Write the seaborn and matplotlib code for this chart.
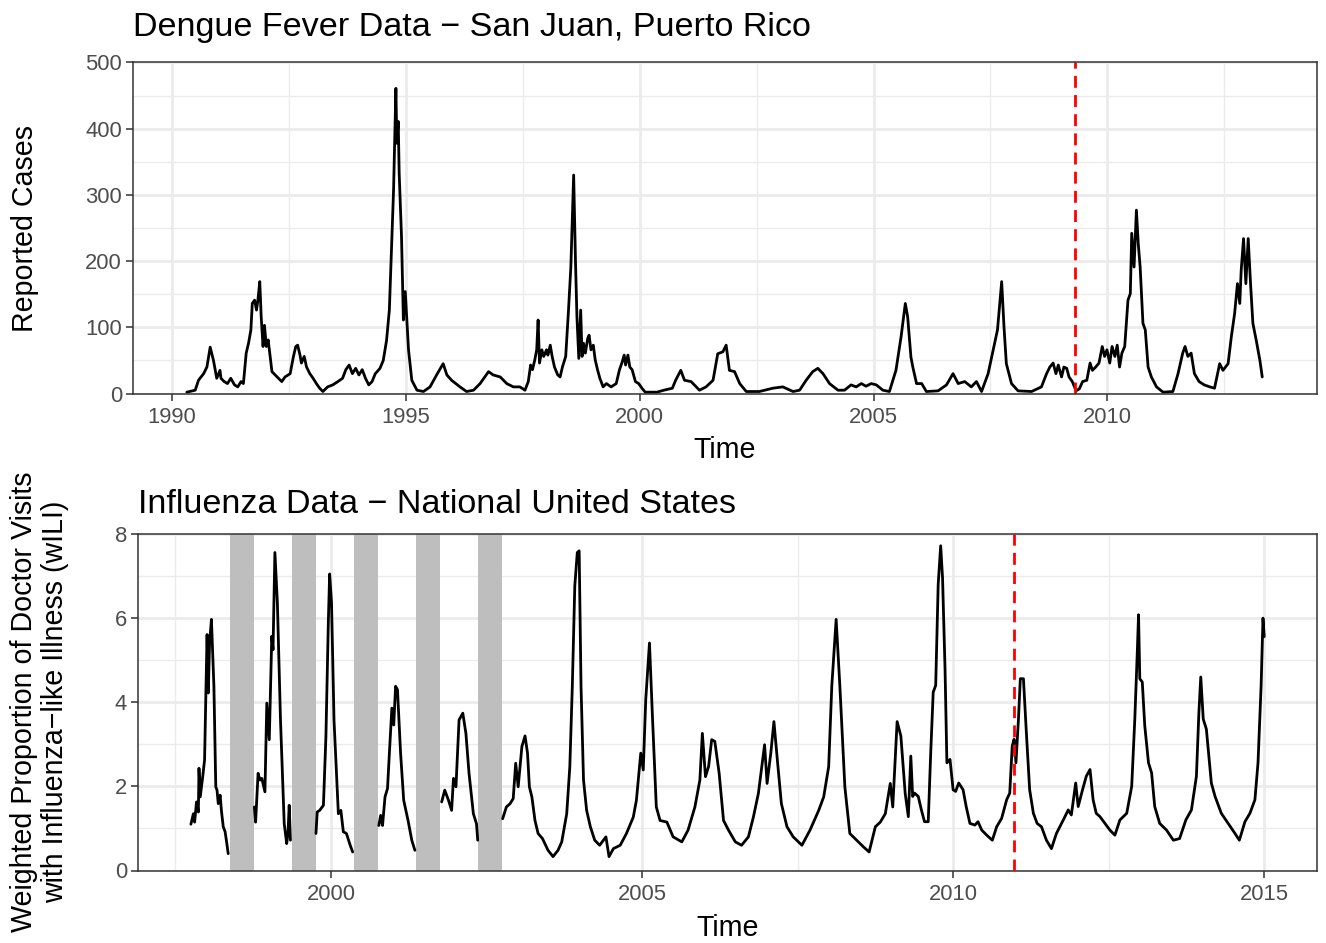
import numpy as np
import pandas as pd
import matplotlib
matplotlib.use("Agg")
import matplotlib.pyplot as plt
import seaborn as sns
from matplotlib.ticker import MultipleLocator

# ---------------- data ----------------
dengue_time = [
    1990.32, 1990.50, 1990.57, 1990.68, 1990.75, 1990.82, 1990.89, 1990.96,
    1991.03, 1991.05, 1991.12, 1991.19, 1991.26, 1991.34, 1991.41, 1991.48, 1991.53, 1991.59,
    1991.64, 1991.69, 1991.72, 1991.77, 1991.81, 1991.84, 1991.88, 1991.91, 1991.95, 1991.98,
    1992.02, 1992.06, 1992.11, 1992.14, 1992.21, 1992.28, 1992.35, 1992.42, 1992.53, 1992.60,
    1992.65, 1992.69, 1992.74, 1992.77, 1992.83, 1992.88, 1992.95, 1993.02, 1993.09, 1993.16,
    1993.23, 1993.33, 1993.44, 1993.55, 1993.65, 1993.72, 1993.79, 1993.86, 1993.93, 1994.00,
    1994.07, 1994.14, 1994.21, 1994.28, 1994.35,
    1994.45, 1994.52, 1994.59, 1994.65, 1994.74, 1994.79, 1994.81, 1994.84, 1994.86, 1994.91,
    1994.95, 1994.99, 1995.06, 1995.13, 1995.24, 1995.38, 1995.52, 1995.66, 1995.80, 1995.88,
    1995.98, 1996.16, 1996.30, 1996.45, 1996.59, 1996.77, 1996.87, 1997.02, 1997.16, 1997.30,
    1997.44, 1997.55, 1997.62, 1997.67, 1997.71, 1997.76, 1997.80, 1997.83, 1997.86, 1997.91,
    1997.95, 1998.01, 1998.04, 1998.09, 1998.13, 1998.18, 1998.25, 1998.30, 1998.35, 1998.42,
    1998.48, 1998.53, 1998.59, 1998.63, 1998.66, 1998.70, 1998.74, 1998.77, 1998.80, 1998.84,
    1998.89, 1998.92, 1998.96, 1999.01, 1999.05, 1999.10, 1999.15, 1999.22, 1999.29, 1999.39,
    1999.50, 1999.57, 1999.62, 1999.67, 1999.70, 1999.75, 1999.79, 1999.84, 1999.91, 1999.98,
    2000.05, 2000.12, 2000.37, 2000.52, 2000.70, 2000.77,
    2000.88, 2000.96, 2001.10, 2001.28, 2001.42, 2001.57, 2001.67, 2001.78, 2001.85, 2001.92,
    2002.03, 2002.14, 2002.28, 2002.56, 2002.85, 2003.06, 2003.28, 2003.42, 2003.56, 2003.70,
    2003.81, 2003.92, 2004.06, 2004.24, 2004.38, 2004.52, 2004.63, 2004.74, 2004.84, 2004.95,
    2005.06, 2005.20, 2005.34, 2005.48, 2005.59, 2005.68, 2005.73, 2005.80, 2005.84, 2005.92,
    2006.03, 2006.13, 2006.38, 2006.56, 2006.70, 2006.81, 2006.95, 2007.09, 2007.20, 2007.31,
    2007.45, 2007.56, 2007.65, 2007.74, 2007.79, 2007.84, 2007.95, 2008.09, 2008.38, 2008.59,
    2008.70, 2008.77, 2008.84, 2008.90, 2008.95, 2009.02, 2009.07, 2009.13, 2009.18, 2009.25,
    2009.33, 2009.40, 2009.47, 2009.56, 2009.63, 2009.68, 2009.75, 2009.82, 2009.89, 2009.94,
    2009.99, 2010.05, 2010.10, 2010.16, 2010.21, 2010.26, 2010.31, 2010.37, 2010.44, 2010.49,
    2010.52, 2010.57, 2010.62, 2010.66, 2010.70, 2010.76, 2010.81, 2010.87, 2010.94, 2011.05,
    2011.19, 2011.40, 2011.51, 2011.61, 2011.66, 2011.72, 2011.79, 2011.86, 2011.96, 2012.07,
    2012.19, 2012.29, 2012.40, 2012.47, 2012.58, 2012.65, 2012.72, 2012.78, 2012.83, 2012.86,
    2012.91, 2012.96, 2013.01, 2013.06, 2013.11, 2013.18, 2013.26, 2013.31]
dengue_cases = [
    2, 5, 20, 30, 40, 70, 50, 23,
    35, 23, 18, 15, 23, 13, 10, 18, 15, 61,
    76, 96, 136, 141, 126, 141, 169, 116, 71, 103,
    71, 81, 51, 33, 28, 23, 18, 25, 30, 56,
    71, 73, 58, 46, 56, 40, 30, 23, 15, 8,
    3, 10, 13, 18, 23, 36, 43, 30, 38, 28,
    36, 23, 13, 18, 30,
    38, 50, 80, 126, 307, 461, 378, 411, 333, 237,
    111, 154, 66, 20, 5, 3, 10, 28, 45, 28,
    20, 10, 3, 5, 15, 33, 28, 25, 15, 10,
    10, 5, 18, 43, 36, 51, 66, 111, 46, 66,
    56, 66, 58, 73, 56, 40, 28, 25, 40, 56,
    126, 191, 330, 197, 116, 53, 126, 56, 76, 61,
    83, 88, 66, 73, 51, 36, 23, 10, 15, 10,
    15, 36, 46, 58, 43, 58, 40, 36, 18, 15,
    8, 2, 2, 5, 8, 20,
    35, 20, 18, 5, 10, 20, 60, 63, 73, 35,
    33, 15, 3, 3, 8, 10, 3, 5, 20, 33,
    38, 30, 15, 5, 5, 13, 10, 15, 11, 15,
    13, 5, 3, 35, 86, 136, 116, 55, 40, 15,
    15, 3, 4, 13, 30, 15, 18, 10, 18, 3,
    30, 66, 96, 169, 100, 45, 15, 4, 3, 10,
    30, 40, 46, 30, 43, 25, 40, 38, 25, 18,
    4, 7, 18, 20, 46, 35, 40, 46, 71, 56,
    66, 46, 71, 56, 73, 40, 61, 71, 141, 151,
    242, 191, 277, 226, 191, 106, 96, 40, 25, 10,
    2, 3, 30, 61, 71, 56, 61, 30, 18, 13,
    10, 8, 45, 35, 45, 86, 121, 166, 136, 186,
    234, 166, 234, 166, 106, 81, 50, 25]

flu_time = [1997.75, 1997.79, 1997.81, 1997.84, 1997.87, 1997.88, 1997.90, 1997.94, 1997.97, 1997.99,
            1998.01, 1998.03, 1998.05, 1998.08, 1998.12, 1998.15, 1998.17, 1998.19, 1998.22, 1998.24,
            1998.27, 1998.30, 1998.32, 1998.35,
            1998.77, 1998.79, 1998.83, 1998.86, 1998.89, 1998.94, 1998.97, 1999.01, 1999.05, 1999.07,
            1999.10, 1999.14, 1999.19, 1999.25, 1999.29, 1999.31, 1999.33, 1999.35,
            1999.76, 1999.78, 1999.82, 1999.88, 1999.92, 1999.96, 1999.98, 2000.01, 2000.05, 2000.09,
            2000.12, 2000.16, 2000.20, 2000.25, 2000.31, 2000.35,
            2000.77, 2000.80, 2000.83, 2000.87, 2000.91, 2000.94, 2000.98, 2001.01, 2001.04, 2001.07,
            2001.12, 2001.17, 2001.24, 2001.30, 2001.35,
            2001.78, 2001.83, 2001.89, 2001.94, 2001.97, 2002.01, 2002.06, 2002.12, 2002.17, 2002.22,
            2002.29, 2002.34, 2002.36,
            2002.76, 2002.82, 2002.88, 2002.93, 2002.97, 2003.01, 2003.07, 2003.12, 2003.16, 2003.19,
            2003.23, 2003.28, 2003.33, 2003.40, 2003.49, 2003.57, 2003.65, 2003.71, 2003.79, 2003.84,
            2003.88, 2003.92, 2003.96, 2003.99, 2004.02, 2004.06, 2004.11, 2004.17, 2004.24, 2004.32,
            2004.42, 2004.47, 2004.54, 2004.65, 2004.75, 2004.86, 2004.91, 2004.98, 2005.02, 2005.06,
            2005.12, 2005.17, 2005.23, 2005.29, 2005.40, 2005.50, 2005.64, 2005.74, 2005.85, 2005.93,
            2005.97, 2006.02, 2006.07, 2006.12, 2006.17, 2006.24, 2006.31, 2006.39, 2006.50, 2006.60,
            2006.71, 2006.79, 2006.87, 2006.97, 2007.01, 2007.07, 2007.12, 2007.18, 2007.24, 2007.33,
            2007.43, 2007.57, 2007.70, 2007.84, 2007.92, 2008.00, 2008.05, 2008.12, 2008.18, 2008.26,
            2008.34, 2008.45, 2008.56, 2008.65, 2008.75, 2008.83, 2008.91, 2008.99, 2009.03, 2009.10,
            2009.16, 2009.23, 2009.28, 2009.32, 2009.35, 2009.38, 2009.44, 2009.49, 2009.54, 2009.60,
            2009.64, 2009.68, 2009.72, 2009.76, 2009.80, 2009.83, 2009.87, 2009.90, 2009.95, 2010.00,
            2010.04, 2010.09, 2010.16, 2010.21, 2010.27, 2010.35, 2010.40, 2010.46, 2010.54, 2010.63,
            2010.70, 2010.78, 2010.86, 2010.91, 2010.95, 2010.98, 2011.01, 2011.05, 2011.08, 2011.13,
            2011.18, 2011.23, 2011.29, 2011.35, 2011.42, 2011.50, 2011.58, 2011.66, 2011.77, 2011.85,
            2011.90, 2011.97, 2012.01, 2012.08, 2012.14, 2012.20, 2012.25, 2012.30, 2012.36, 2012.44,
            2012.52, 2012.60, 2012.68, 2012.79, 2012.87, 2012.92, 2012.96, 2012.98, 2013.00, 2013.04,
            2013.08, 2013.14, 2013.19, 2013.24, 2013.32, 2013.43, 2013.54, 2013.64, 2013.74, 2013.83,
            2013.91, 2013.95, 2013.98, 2014.02, 2014.07, 2014.15, 2014.21, 2014.31, 2014.42, 2014.53,
            2014.60, 2014.69, 2014.77, 2014.85, 2014.90, 2014.95, 2014.98, 2015.00]
flu_wili = [1.10, 1.35, 1.15, 1.63, 1.39, 2.43, 1.75, 2.23, 2.63, 4.14,
            5.61, 4.22, 5.41, 5.97, 4.38, 1.99, 1.91, 1.59, 1.79, 1.43,
            1.04, 0.92, 0.72, 0.40,
            1.51, 1.15, 2.31, 2.15, 2.19, 1.87, 3.98, 3.11, 5.57, 5.25,
            7.56, 6.37, 3.58, 1.11, 0.64, 0.88, 1.55, 0.72,
            0.88, 1.39, 1.43, 1.55, 3.18, 5.97, 7.05, 6.37, 3.58, 2.31,
            1.35, 1.43, 0.92, 0.88, 0.60, 0.44,
            1.07, 1.31, 1.07, 1.75, 1.95, 2.79, 3.86, 3.46, 4.38, 4.30,
            2.79, 1.67, 1.19, 0.72, 0.48,
            1.63, 1.91, 1.67, 1.43, 2.19, 1.99, 3.58, 3.74, 3.26, 2.31,
            1.35, 1.11, 0.72,
            1.23, 1.51, 1.59, 1.71, 2.55, 1.99, 2.95, 3.20, 2.79, 1.99,
            1.75, 1.19, 0.88, 0.76, 0.48, 0.33, 0.48, 0.68, 1.35, 2.47,
            4.38, 6.77, 7.56, 7.60, 4.38, 2.15, 1.43, 1.04, 0.72, 0.60,
            0.80, 0.33, 0.52, 0.60, 0.88, 1.27, 1.67, 2.79, 2.39, 4.06,
            5.41, 3.58, 1.51, 1.19, 1.15, 0.80, 0.68, 0.96, 1.51, 2.15,
            3.26, 2.23, 2.47, 3.11, 3.07, 2.31, 1.19, 0.96, 0.68, 0.60,
            0.80, 1.27, 1.83, 2.99, 2.07, 2.79, 3.54, 2.55, 1.59, 1.04,
            0.80, 0.60, 0.96, 1.43, 1.75, 2.47, 4.38, 5.97, 4.38, 1.99,
            0.88, 0.72, 0.56, 0.44, 1.04, 1.15, 1.35, 2.07, 1.51, 3.54,
            3.20, 1.83, 1.28, 2.72, 1.76, 1.84, 1.76, 1.44, 1.16, 1.16,
            2.80, 4.24, 4.40, 6.80, 7.72, 6.96, 4.80, 2.56, 2.64, 1.92,
            1.88, 2.08, 1.92, 1.52, 1.12, 1.08, 1.16, 0.96, 0.84, 0.72,
            1.04, 1.24, 1.68, 1.84, 2.96, 3.12, 2.56, 3.60, 4.56, 4.56,
            3.20, 1.92, 1.36, 1.12, 1.04, 0.72, 0.52, 0.88, 1.20, 1.44,
            1.32, 2.08, 1.52, 1.92, 2.24, 2.40, 1.68, 1.36, 1.28, 1.12,
            0.96, 0.84, 1.20, 1.36, 2.00, 3.60, 5.20, 6.08, 4.56, 4.48,
            3.44, 2.56, 2.32, 1.52, 1.12, 0.96, 0.72, 0.76, 1.20, 1.44,
            2.24, 3.76, 4.60, 3.60, 3.36, 2.08, 1.76, 1.36, 1.12, 0.88,
            0.72, 1.16, 1.36, 1.68, 2.56, 4.40, 6.00, 5.56]
flu_season = ([1997] * 24 + [1998] * 18 + [1999] * 16 + [2000] * 15 + [2001] * 13)
flu_season = flu_season + [2002] * (len(flu_time) - len(flu_season))

band_start = [1998.375, 1999.375, 2000.37, 2001.37, 2002.37]
band_end = [1998.76, 1999.755, 2000.76, 2001.76, 2002.755]

dengue_split = 2009.30
flu_split = 2010.98

dengue_xticks = [1990, 1995, 2000, 2005, 2010]
dengue_yticks = [0, 100, 200, 300, 400, 500]
flu_xticks = [2000, 2005, 2010, 2015]
flu_yticks = [0, 2, 4, 6, 8]

assert len(dengue_time) == len(dengue_cases)
assert len(flu_time) == len(flu_wili)

# ---------------- style ----------------
sns.set_theme(style="white")
plt.rcParams['font.family'] = ['Liberation Sans', 'DejaVu Sans']

dengue = pd.DataFrame({"Time": dengue_time, "Cases": dengue_cases})
flu = pd.DataFrame({"Time": flu_time, "wILI": flu_wili, "season": flu_season})

W, H = 1326, 943
fig = plt.figure(figsize=(W / 100, H / 100), dpi=100)

def px_axes(left, top, right, bottom):
    return fig.add_axes([left / W, (H - bottom) / H, (right - left) / W, (bottom - top) / H])

ax1 = px_axes(133, 62.5, 1316.5, 393.5)
ax2 = px_axes(138, 534, 1316.5, 870.5)

GRID = "#EBEBEB"
EDGE = "#333333"
TICKC = "#4D4D4D"
TICK_FS = 15.8
LAB_FS = 20.6
TITLE_FS = 24.6

def style_axes(ax, major_x, minor_x, major_y, minor_y):
    ax.set_xticks(major_x)
    ax.set_yticks(major_y)
    ax.xaxis.set_minor_locator(MultipleLocator(minor_x))
    ax.yaxis.set_minor_locator(MultipleLocator(minor_y))
    ax.grid(which="major", color=GRID, linewidth=2.0, zorder=0)
    ax.grid(which="minor", color=GRID, linewidth=1.0, zorder=0)
    ax.set_axisbelow(True)
    for s in ax.spines.values():
        s.set_color(EDGE)
        s.set_linewidth(1.1)
    ax.tick_params(which="major", direction="out", length=5, width=1.1, color=EDGE,
                   labelsize=TICK_FS, labelcolor=TICKC, bottom=True, left=True)
    ax.tick_params(axis="x", which="major", pad=5)
    ax.tick_params(axis="y", which="major", pad=3)
    ax.tick_params(which="minor", length=0)

# ---------------- top: dengue ----------------
sns.lineplot(data=dengue, x="Time", y="Cases", ax=ax1, color="black", linewidth=2.0,
             estimator=None, sort=False)
ax1.axvline(dengue_split, color="#FF0000", linewidth=2.0, dashes=(4.3, 2.6))
ax1.set_xlim(1989.17, 2014.47)
ax1.set_ylim(0, 500)
style_axes(ax1, dengue_xticks, 2.5, dengue_yticks, 50)
ax1.set_xlabel("Time", fontsize=LAB_FS, color="black")
ax1.set_ylabel("Reported Cases", fontsize=LAB_FS, color="black", va="center", ha="center")
ax1.yaxis.set_label_coords(-0.0913, 0.5)
ax1.xaxis.set_label_coords(0.5, -0.171)
ax1.xaxis.label.set_va("center")
ax1.set_title("Dengue Fever Data \u2212 San Juan, Puerto Rico", loc="left",
              fontsize=TITLE_FS, color="black", pad=19)

# ---------------- bottom: influenza ----------------
for s, e in zip(band_start, band_end):
    ax2.axvspan(s, e, color="#BEBEBE", linewidth=0, zorder=1)
sns.lineplot(data=flu, x="Time", y="wILI", units="season", ax=ax2, color="black",
             linewidth=2.0, estimator=None, sort=False, zorder=3)
ax2.axvline(flu_split, color="#FF0000", linewidth=2.0, dashes=(4.3, 2.6), zorder=4)
ax2.set_xlim(1996.90, 2015.84)
ax2.set_ylim(0, 8)
style_axes(ax2, flu_xticks, 2.5, flu_yticks, 1)
ax2.set_xlabel("Time", fontsize=LAB_FS, color="black")
ax2.set_ylabel("Weighted Proportion of Doctor Visits\nwith Influenza\u2212like Illness (wILI)",
               fontsize=LAB_FS, color="black", va="center", ha="center", linespacing=1.1)
ax2.yaxis.set_label_coords(-0.0835, 0.5)
ax2.xaxis.set_label_coords(0.5, -0.171)
ax2.xaxis.label.set_va("center")
ax2.set_title("Influenza Data \u2212 National United States", loc="left",
              fontsize=TITLE_FS, color="black", pad=15)

fig.savefig("out.png", dpi=100, facecolor="white")
